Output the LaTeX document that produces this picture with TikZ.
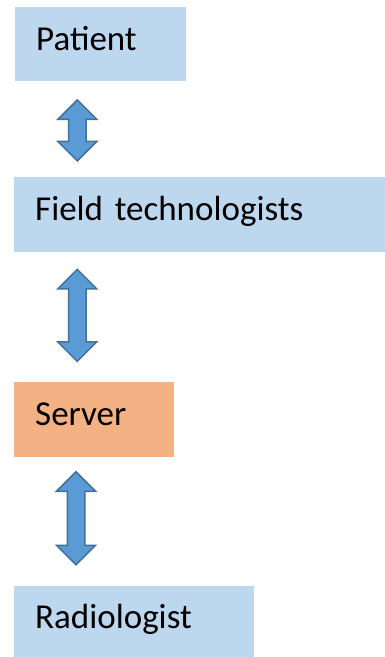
\documentclass[tikz,border=0pt]{standalone}
\usepackage{fontspec}
\setmainfont{Carlito}
\usetikzlibrary{positioning,shapes.arrows}
\definecolor{boxblue}{HTML}{BDD7EE}
\definecolor{boxorange}{HTML}{F4B183}
\definecolor{arrowfill}{HTML}{5B9BD5}
\definecolor{arrowline}{HTML}{41719C}
\begin{document}
\begin{tikzpicture}[x=1pt,y=1pt,node distance=95pt]
\tikzstyle{every node}=[font=\fontsize{35}{42}\selectfont]
\tikzstyle{box}=[rectangle,fill=boxblue,anchor=north west,inner xsep=21pt,inner ysep=0pt,
  text height=27pt,text depth=15pt,align=left,minimum height=75pt]
\tikzstyle{link}=[double arrow,fill=arrowfill,draw=arrowline,line width=1.5pt,
  shape border rotate=90,minimum width=37.5pt,double arrow head extend=10.75pt,inner sep=8pt]
\useasboundingbox (0,0) rectangle (385,-657);
\node [box,text width=129pt,minimum height=74pt] (0) at (15,-7) {Patient};
\node [box,text width=329pt,below=95pt of 0.south west,anchor=north west,xshift=-1pt] (2) {Field technologists};
\node [box,fill=boxorange,text width=118pt,below=130pt of 2.south west,anchor=north west] (4) {Server};
\node [box,text width=198pt,minimum height=72pt,below=129pt of 4.south west,anchor=north west] (6) {Radiologist};

\node [link,minimum height=61pt,below=17.5pt of 0.south west,xshift=62.3pt] (1) {};
\node [link,minimum height=92pt,below=16.5pt of 2.south west,xshift=63.3pt] (3) {};
\node [link,minimum height=93pt,below=13.5pt of 4.south west,xshift=62pt] (5) {};
\end{tikzpicture}
\end{document}
